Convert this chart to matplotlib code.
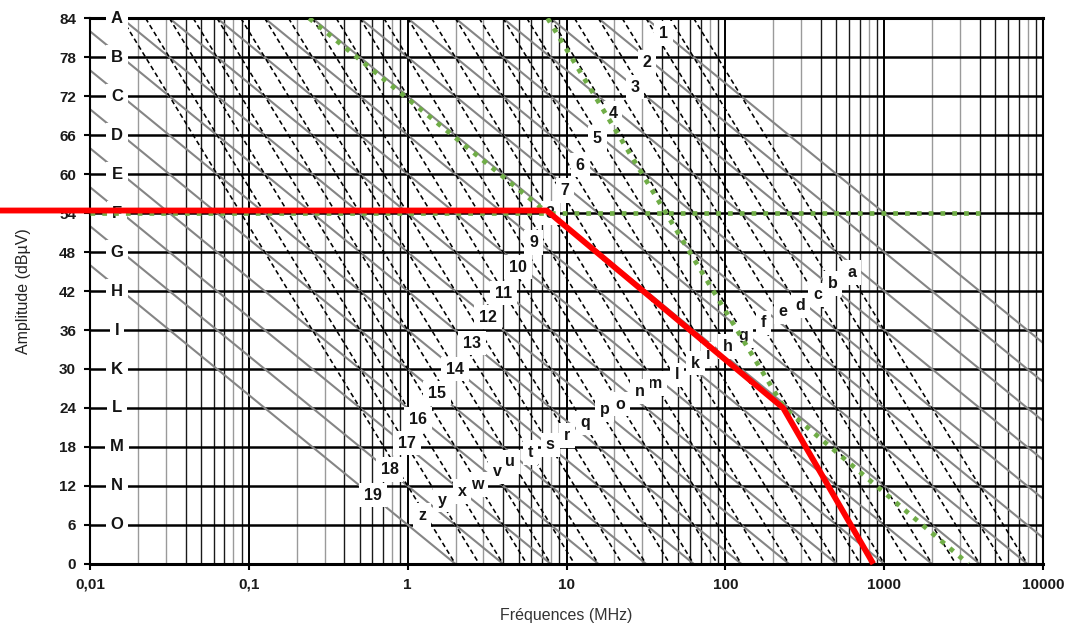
import numpy as np
import matplotlib
matplotlib.use("Agg")
import matplotlib.pyplot as plt

plt.rcParams["font.family"] = ["Liberation Sans", "DejaVu Sans"]

# ============================================================
# DONNÉES (lues sur l'abaque)
# ============================================================

# niveaux horizontaux (dBµV) et lettres associées
niveaux = [84, 78, 72, 66, 60, 54, 48, 42, 36, 30, 24, 18, 12, 6]
lettres_niveaux = ["A", "B", "C", "D", "E", "F", "G", "H", "I", "K", "L", "M", "N", "O"]

# droites à -20 dB/décade : niveau à 1 MHz (lignes 1 à 19)
niv_1mhz_20 = [114, 108, 102, 96, 90, 84, 78, 72, 66, 60, 54, 48, 42, 36, 30, 24, 18, 12, 6]

# droites à -40 dB/décade : niveau à 1 MHz (lignes a à z)
niv_1mhz_40 = [156, 150, 144, 138, 132, 126, 120, 114, 108, 102, 96, 90, 84,
               78, 72, 66, 60, 54, 48, 42, 36, 30, 24, 18, 12]

# étiquettes des numéros (position lue)
num_txt = [str(i) for i in range(1, 20)]
num_f = [40.6, 32.2, 27.0, 19.6, 15.6, 12.2, 9.8, 7.9, 6.2, 4.95, 3.99, 3.21,
         2.55, 1.99, 1.53, 1.16, 0.99, 0.77, 0.605]
num_db = [81.7, 77.2, 73.4, 69.4, 65.5, 61.4, 57.5, 54.0, 49.5, 45.7, 41.7, 38.0,
          34.0, 30.0, 26.3, 22.2, 18.6, 14.5, 10.6]

# étiquettes des lettres minuscules
let_txt = ["a", "b", "c", "d", "e", "f", "g", "h", "i", "k", "l", "m", "n",
           "o", "p", "q", "r", "s", "t", "u", "v", "w", "x", "y", "z"]
let_f = [628, 471, 379, 296, 231, 173, 129, 104, 78, 64.6, 49.7, 36.1, 29.0,
         21.8, 17.3, 13.1, 10.1, 7.9, 5.9, 4.42, 3.66, 2.74, 2.20, 1.65, 1.23]
let_db = [44.9, 43.2, 41.4, 39.8, 38.8, 37.1, 35.1, 33.5, 32.3, 30.9, 29.1, 27.8,
          26.5, 24.6, 23.7, 21.7, 19.8, 18.3, 17.1, 15.7, 14.2, 12.2, 11.1, 9.8, 7.5]

# gabarit rouge
rouge_f = [0.0027, 7.5, 231, 853]
rouge_db = [54.4, 54.4, 24, 0]

# tracés verts en pointillés
vert1_f = [0.24, 7.6]
vert1_db = [84, 54]
vert2_f = [7.6, 235, 3380]
vert2_db = [84, 24, 0]
vert3_f = [0.01, 4120]
vert3_db = [54, 54]

# lignes verticales secondaires : gris ou noir selon le multiple
multiples = [2, 3, 4, 5, 6, 7, 8, 9]
couleur_mult = ["#9a9a9a", "#9a9a9a", "#1a1a1a", "#1a1a1a", "#1a1a1a", "#1a1a1a", "#9a9a9a", "#1a1a1a"]
decades = [0.01, 0.1, 1, 10, 100, 1000]
xticks = [0.01, 0.1, 1, 10, 100, 1000, 10000]
xtick_labels = ["0,01", "0,1", "1", "10", "100", "1000", "10000"]

# ============================================================
# FIGURE
# ============================================================

fig, ax = plt.subplots(figsize=(10.71, 6.3), dpi=100)
fig.subplots_adjust(left=0.084, right=0.974, bottom=0.105, top=0.971)
ax.set_xscale("log")
ax.set_xlim(0.01, 10000)
ax.set_ylim(0, 84)

# ── grille ──
for d in decades:
    for m, c in zip(multiples, couleur_mult):
        ax.axvline(d * m, color=c, lw=1.0, zorder=1)
for d in xticks:
    ax.axvline(d, color="black", lw=1.4, zorder=1)
for n in niveaux:
    ax.axhline(n, color="black", lw=1.8, zorder=1)

# ── familles de droites ──
for n in niv_1mhz_20:
    ax.axline((1, n), (10, n - 20), color="#858585", lw=1.5, zorder=2)
for n in niv_1mhz_40:
    ax.axline((1, n), (10, n - 40), color="black", lw=1.15,
              linestyle=(0, (3, 2)), zorder=2)

# ── étiquettes ──
boite = dict(boxstyle="square,pad=0.3", fc="white", ec="none")
for t, f, db in zip(num_txt, num_f, num_db):
    ax.text(f, db, t, ha="center", va="center", fontsize=11.5, fontweight="bold",
            color="#141414", bbox=boite, zorder=4)
for t, f, db in zip(let_txt, let_f, let_db):
    ax.text(f, db, t, ha="center", va="center", fontsize=11.5, fontweight="bold",
            color="#141414", bbox=boite, zorder=4)
for t, n in zip(lettres_niveaux, niveaux):
    ax.text(0.0148, n, t, ha="center", va="center", fontsize=12, fontweight="bold",
            color="#141414", bbox=dict(boxstyle="square,pad=0.3", fc="white", ec="none"),
            zorder=4)

# ── tracés de couleur ──
vert = "#70ad47"
for fx, dy in [(vert3_f, vert3_db), (vert1_f, vert1_db), (vert2_f, vert2_db)]:
    ax.plot(fx, dy, color=vert, lw=3.4, linestyle=(0, (1, 1.5)),
            dash_capstyle="butt", zorder=5)
ax.plot(rouge_f, rouge_db, color="#ff0000", lw=4.2, solid_capstyle="butt",
        solid_joinstyle="miter", zorder=6, clip_on=False)

# ── axes ──
ax.set_xticks(xticks)
ax.set_xticklabels(xtick_labels)
ax.xaxis.set_minor_locator(matplotlib.ticker.NullLocator())
ax.set_yticks(niveaux + [0])
ax.tick_params(axis="both", direction="out", length=4, width=1.5, labelsize=11,
               colors="black", pad=6)
for lab in ax.get_xticklabels() + ax.get_yticklabels():
    lab.set_fontweight("bold")
    lab.set_color("#1a1a1a")
for s in ["top", "bottom"]:
    ax.spines[s].set_linewidth(2.2)
for s in ["left", "right"]:
    ax.spines[s].set_linewidth(1.5)

ax.set_xlabel("Fréquences (MHz)", fontsize=11.5, color="#333333", labelpad=12)
ax.set_ylabel("Amplitude (dBµV)", fontsize=11.5, color="#222222", labelpad=20)

fig.savefig("out.png", dpi=100)
